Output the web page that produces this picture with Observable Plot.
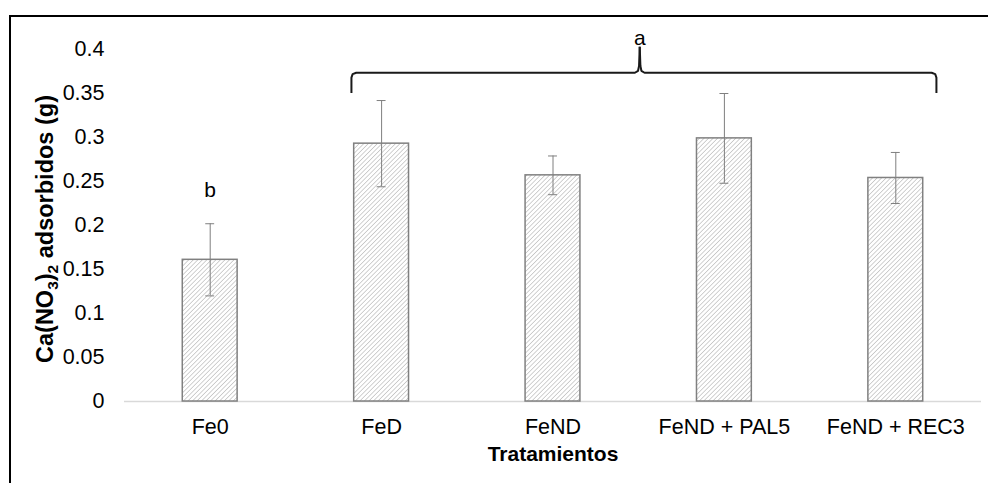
<!DOCTYPE html>
<html>
<head>
<meta charset="utf-8">
<script src="https://cdn.jsdelivr.net/npm/d3@7"></script>
<script src="https://cdn.jsdelivr.net/npm/@observablehq/plot@0.6"></script>
<style>
  html, body { margin: 0; padding: 0; background: #fff; overflow: hidden; }
  #chart { position: absolute; left: 0; top: 0; }
  #frame {
    position: absolute; left: 9px; top: 15px; width: 2000px; height: 2000px;
    border-left: 2px solid #000; border-top: 2px solid #000;
    pointer-events: none; z-index: 2;
  }
</style>
</head>
<body>
<div id="chart"></div>
<div id="frame"></div>
<script>
// Treatments and Ca(NO3)2 adsorbed (g): mean and error
const categories = ["Fe0", "FeD", "FeND", "FeND + PAL5", "FeND + REC3"];
const means = [0.161, 0.293, 0.257, 0.299, 0.254];
const errors = [0.041, 0.049, 0.022, 0.051, 0.029];
const yTicks = [0, 0.05, 0.1, 0.15, 0.2, 0.25, 0.3, 0.35, 0.4];

// Significance letters
const letterText = ["b", "a"];
const letterX = [0, 2.506];
const letterY = [0.240, 0.413];

// Brace grouping FeD .. FeND + REC3: start, tip, end (x) and foot, bar, tip (y)
const braceX = [0.824, 2.506, 4.237];
const braceY = [0.3505, 0.3736, 0.4032];

const data = categories.map((c, i) => ({ i, cat: c, mean: means[i], err: errors[i] }));
const letters = letterText.map((t, k) => ({ t, x: letterX[k], y: letterY[k] }));

function brace([xs, xm, xe], [yf, yb, yt]) {
  const rx = 0.028, ry = 0.0055;
  const half = (s, dir) => [
    [s, yf], [s, yb - ry], [s + dir * rx * 0.25, yb - ry * 0.3], [s + dir * rx, yb],
    [xm - dir * rx, yb], [xm - dir * rx * 0.35, yb + ry * 0.4], [xm - dir * 0.004, yb + ry * 1.4], [xm, yt]
  ];
  return [
    ...half(xs, 1).map(([x, y]) => ({ x, y, side: "L" })),
    ...half(xe, -1).map(([x, y]) => ({ x, y, side: "R" }))
  ];
}
const bracePts = brace(braceX, braceY);

const halfBar = 0.16;
const halfCap = 0.026;
const caps = data.flatMap(d => [
  { i: d.i, y: d.mean + d.err },
  { i: d.i, y: d.mean - d.err }
]);

const fmt = v => String(+v.toFixed(2));

const svg = Plot.plot({
  width: 988,
  height: 483,
  marginLeft: 124,
  marginRight: 7,
  marginTop: 49,
  marginBottom: 82,
  style: {
    fontFamily: "'Liberation Sans', Arial, sans-serif",
    fontSize: "21.5px",
    color: "#000",
    background: "transparent",
    overflow: "visible"
  },
  x: {
    type: "linear",
    domain: [-0.5, categories.length - 0.5],
    ticks: categories.map((_, i) => i),
    tickFormat: i => categories[i],
    tickSize: 0,
    tickPadding: 17,
    label: null
  },
  y: {
    domain: [0, 0.4],
    ticks: yTicks,
    tickFormat: fmt,
    tickSize: 0,
    tickPadding: 20,
    label: null
  },
  marks: [
    Plot.ruleY([0], { stroke: "#d9d9d9", strokeWidth: 1.5 }),
    Plot.rect(data, {
      x1: d => d.i - halfBar,
      x2: d => d.i + halfBar,
      y1: 0,
      y2: "mean",
      fill: "url(#hatch)",
      stroke: "#808080",
      strokeWidth: 1.5
    }),
    Plot.ruleX(data, {
      x: "i",
      y1: d => d.mean - d.err,
      y2: d => d.mean + d.err,
      stroke: "#7f7f7f",
      strokeWidth: 1
    }),
    Plot.ruleY(caps, {
      y: "y",
      x1: d => d.i - halfCap,
      x2: d => d.i + halfCap,
      stroke: "#7f7f7f",
      strokeWidth: 1
    }),
    Plot.line(bracePts, {
      x: "x", y: "y", z: "side",
      stroke: "#1a1a1a", strokeWidth: 2,
      strokeLinejoin: "round", strokeLinecap: "butt"
    }),
    Plot.text(letters, {
      x: "x", y: "y", text: "t",
      fontSize: 21, fill: "#000"
    }),
    Plot.text(["Tratamientos"], {
      frameAnchor: "bottom", dy: 59,
      fontWeight: "bold", fontSize: 21, fill: "#000"
    })
  ]
});

// Diagonal hatch used to fill the bars
const defs = d3.select(svg).insert("defs", ":first-child");
const pat = defs.append("pattern")
  .attr("id", "hatch")
  .attr("patternUnits", "userSpaceOnUse")
  .attr("width", 3.2)
  .attr("height", 3.2)
  .attr("patternTransform", "rotate(45)");
pat.append("rect").attr("width", 3.2).attr("height", 3.2).attr("fill", "#fff");
pat.append("line")
  .attr("x1", 0).attr("y1", 0).attr("x2", 0).attr("y2", 3.2)
  .attr("stroke", "#b3b3b3").attr("stroke-width", 1.2);

// Rotated y-axis title with subscripts
const yTitle = d3.select(svg).append("text")
  .attr("transform", "translate(52.5,229) rotate(-90)")
  .attr("text-anchor", "middle")
  .attr("font-weight", "bold")
  .attr("font-size", 23.5)
  .attr("fill", "#000");
yTitle.append("tspan").text("Ca(NO");
yTitle.append("tspan").attr("font-size", 15.5).attr("dy", 5.5).text("3");
yTitle.append("tspan").attr("dy", -5.5).text(")");
yTitle.append("tspan").attr("font-size", 15.5).attr("dy", 5.5).text("2");
yTitle.append("tspan").attr("dy", -5.5).text(" adsorbidos (g)");

document.getElementById("chart").appendChild(svg);
</script>
</body>
</html>
